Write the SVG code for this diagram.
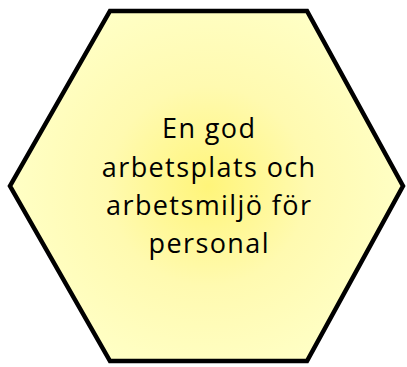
<svg xmlns="http://www.w3.org/2000/svg" width="407" height="367" viewBox="0 0 407 367">
<defs>
<radialGradient id="g" cx="208" cy="186" r="200" gradientUnits="userSpaceOnUse">
<stop offset="0" stop-color="#FFF57A"/>
<stop offset="0.5" stop-color="#FFFAB0"/>
<stop offset="1" stop-color="#FFFFC6"/>
</radialGradient>
<style>
.t{font-family:"Open Sans","Liberation Sans",sans-serif;font-size:27px;letter-spacing:1.4px;fill:#000;text-anchor:middle}
</style>
</defs>
<rect width="407" height="367" fill="#fff"/>
<g id="hexagon">
<polygon points="110,11 307,11 403,186 307,361 110,361 10,186" fill="url(#g)" stroke="#000" stroke-width="4.5" stroke-linejoin="miter"/>
<text class="t" x="209.2" y="138.3">En god</text>
<text class="t" x="209.2" y="176.5">arbetsplats och</text>
<text class="t" x="209.2" y="214.5">arbetsmiljö för</text>
<text class="t" x="209.2" y="252.5">personal</text>
</g>
</svg>
